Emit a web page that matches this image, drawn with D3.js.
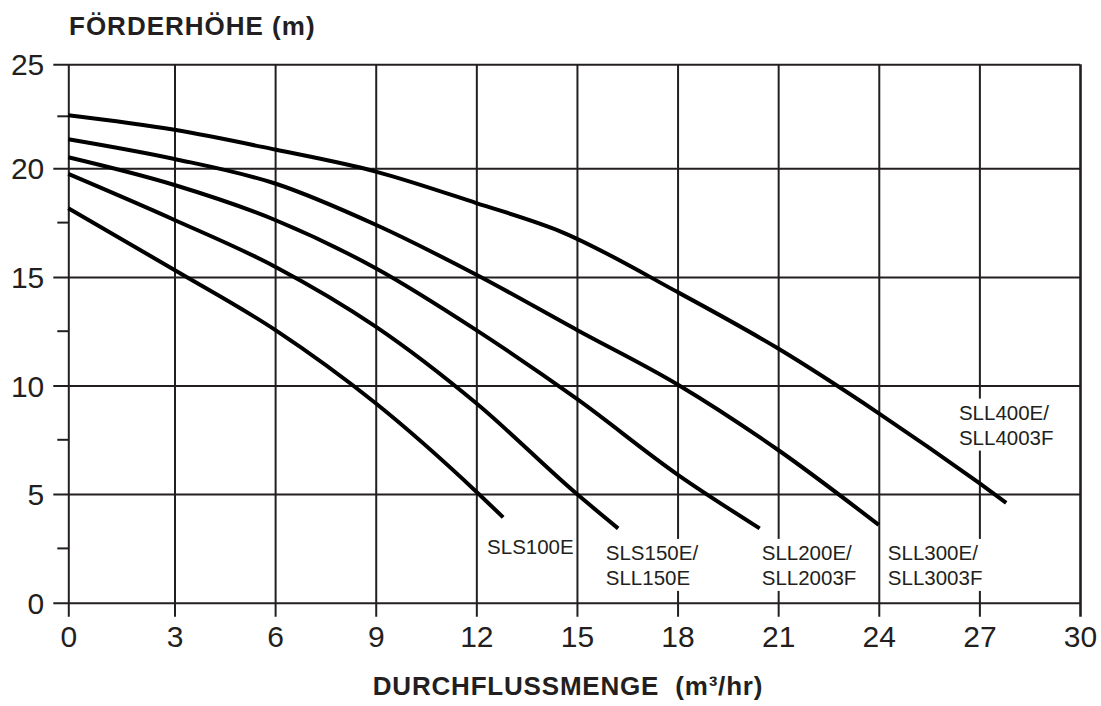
<!DOCTYPE html>
<html>
<head>
<meta charset="utf-8">
<script src="https://cdn.jsdelivr.net/npm/d3@7"></script>
<style>
  html, body { margin: 0; padding: 0; background: #fff; }
  svg { display: block; }
  text { font-family: "Liberation Sans", Arial, Helvetica, sans-serif; fill: #231f20; }
</style>
</head>
<body>
<svg id="chart" width="1101" height="706"></svg>
<script>
// ---- data ----
const xTicks = [0, 3, 6, 9, 12, 15, 18, 21, 24, 27, 30];
const yTicks = [0, 5, 10, 15, 20, 25];
const yMinorTicks = [2.5, 7.5, 12.5, 17.5, 22.5];

const sll400e = [[0,22.55],[3,21.85],[6,20.9],[9,19.85],[12,18.4],[14.5,17.1],[18,14.3],[21,11.7],[24,8.72],[27,5.5],[27.8,4.6]];
const sll300e = [[0,21.4],[3,20.45],[6,19.3],[9,17.4],[12,15.1],[15,12.56],[18,10.05],[21,7.03],[24,3.58]];
const sll200e = [[0,20.53],[3,19.23],[6,17.62],[9,15.4],[12,12.55],[15,9.38],[18,5.9],[20.45,3.42]];
const sls150e = [[0,19.74],[3,17.62],[6,15.47],[9,12.71],[12,9.18],[15,5.0],[16.23,3.42]];
const sls100e = [[0,18.16],[3,15.32],[6,12.56],[9,9.18],[12,5.11],[12.8,3.93]];

const seriesNames = ["SLL400E", "SLL300E", "SLL200E", "SLS150E", "SLS100E"];
const seriesValues = [sll400e, sll300e, sll200e, sls150e, sls100e];

// curve labels: text lines and anchor (flow, head) in data units
const labelLines = [["SLS100E"], ["SLS150E/", "SLL150E"], ["SLL200E/", "SLL2003F"], ["SLL300E/", "SLL3003F"], ["SLL400E/", "SLL4003F"]];
const labelAnchors = [[12.32, 2.24], [15.86, 1.97], [20.51, 1.97], [24.27, 1.97], [26.39, 8.43]];

const yTitle = "FÖRDERHÖHE (m)";
const xTitle = "DURCHFLUSSMENGE  (m³/hr)";

// ---- drawing ----
const svg = d3.select("#chart");
const ink = "#231f20";

const x = d3.scaleLinear().domain([0, 3, 30]).range([68.3, 174.5, 1080]);
const y = d3.scaleLinear().domain([0, 20, 25]).range([602.7, 168.3, 64.3]);

const pL = x(0), pR = x(30), pT = y(25), pB = y(0);

// Y axis with gridlines
const yAxis = svg.append("g")
  .attr("transform", `translate(${pL},0)`)
  .call(d3.axisLeft(y).tickValues(yTicks).tickSize(-(pR - pL)).tickPadding(24).tickFormat(d3.format("d")));
yAxis.select(".domain").remove();
yAxis.selectAll(".tick line").attr("x1", -15).attr("stroke", ink).attr("stroke-width", 2);
yAxis.selectAll(".tick text")
  .attr("font-size", 30).attr("fill", ink).attr("dy", null).attr("dominant-baseline", "central")
  .style("font-family", '"Liberation Sans", Arial, sans-serif');

// minor y ticks
svg.append("g").selectAll("line").data(yMinorTicks).join("line")
  .attr("x1", pL - 11).attr("x2", pL)
  .attr("y1", d => y(d)).attr("y2", d => y(d))
  .attr("stroke", ink).attr("stroke-width", 2);

// X axis with gridlines
const xAxis = svg.append("g")
  .attr("transform", `translate(0,${pB})`)
  .call(d3.axisBottom(x).tickValues(xTicks).tickSize(-(pB - pT)).tickPadding(23).tickFormat(d3.format("d")));
xAxis.select(".domain").remove();
xAxis.selectAll(".tick line").attr("y1", 14).attr("stroke", ink).attr("stroke-width", 2);
xAxis.selectAll(".tick line").filter(d => d === 30).attr("stroke-width", 2.6);
xAxis.selectAll(".tick text")
  .attr("font-size", 30).attr("fill", ink).attr("dy", "0.72em")
  .style("font-family", '"Liberation Sans", Arial, sans-serif');

// label backgrounds + labels
const labG = svg.append("g");
labelLines.forEach((lines, i) => {
  const g = labG.append("g");
  const t = g.append("text")
    .attr("x", x(labelAnchors[i][0]))
    .attr("y", y(labelAnchors[i][1]))
    .attr("font-size", 20.5);
  lines.forEach((s, j) => {
    t.append("tspan").attr("x", x(labelAnchors[i][0])).attr("dy", j === 0 ? 0 : 25).text(s);
  });
  const bb = t.node().getBBox();
  g.insert("rect", "text")
    .attr("x", bb.x - 2).attr("y", bb.y - 2)
    .attr("width", bb.width + 4).attr("height", bb.height + 4)
    .attr("fill", "#fff");
});

// curves
const line = d3.line().x(d => x(d[0])).y(d => y(d[1])).curve(d3.curveMonotoneX);
svg.append("g").selectAll("path").data(seriesValues).join("path")
  .attr("d", line)
  .attr("fill", "none")
  .attr("stroke", "#000")
  .attr("stroke-width", 4)
  .attr("stroke-linecap", "butt")
  .attr("stroke-linejoin", "round");

// titles
svg.append("text")
  .attr("x", 69).attr("y", 35)
  .attr("font-size", 26).attr("font-weight", "bold").attr("fill", "#000")
  .style("letter-spacing", "1px")
  .text(yTitle);

svg.append("text")
  .attr("x", 568).attr("y", 695)
  .attr("text-anchor", "middle")
  .attr("font-size", 26).attr("font-weight", "bold").attr("fill", "#000")
  .style("letter-spacing", "0.8px")
  .style("white-space", "pre")
  .text(xTitle);
</script>
</body>
</html>
